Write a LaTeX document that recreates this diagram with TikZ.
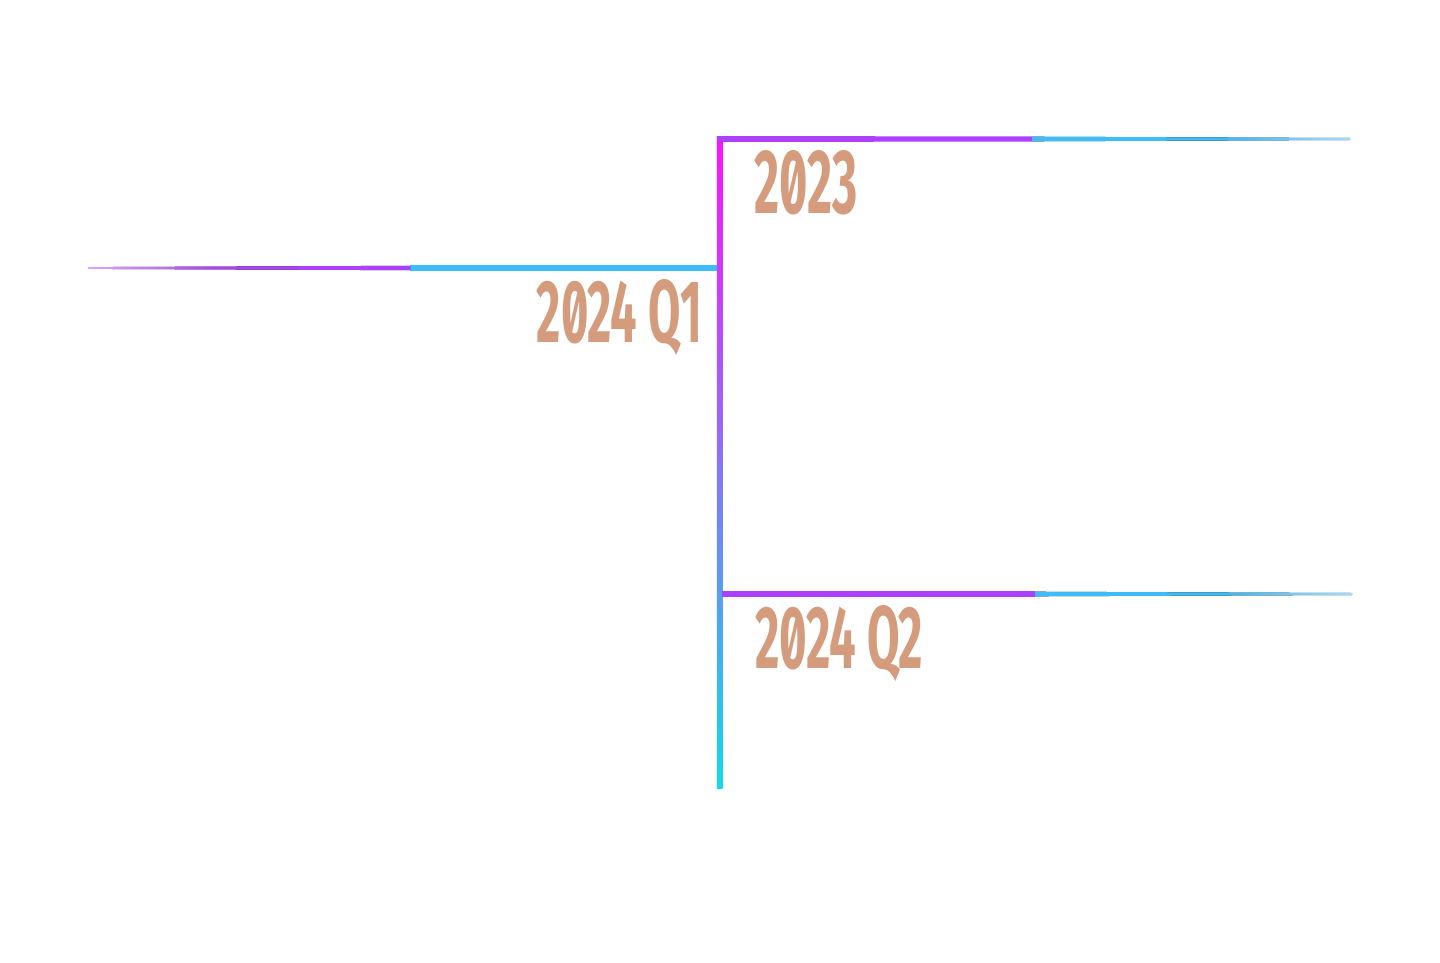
\documentclass[tikz,border=0pt]{standalone}
\usepackage{fontspec}
\setmainfont{Fira Sans}[RawFeature=+zero]
\usepackage{graphicx}
\definecolor{spinetop}{HTML}{FF10FF}
\definecolor{spinemid}{HTML}{9A66F6}
\definecolor{spinebot}{HTML}{12DAE8}
\definecolor{branchpurple}{HTML}{AE40FC}
\definecolor{branchlilac}{HTML}{D8A8F8}
\definecolor{branchblue}{HTML}{3CBCF8}
\definecolor{branchpale}{HTML}{A8DAF8}
\definecolor{labeltan}{HTML}{D49B7C}
\pgfdeclarehorizontalshading{bluetail}{100bp}{color(0bp)=(branchblue); color(25bp)=(branchblue);
  color(57bp)=(branchblue); color(75bp)=(branchpale); color(100bp)=(branchpale)}
\pgfdeclarehorizontalshading{purpletail}{100bp}{color(0bp)=(branchlilac); color(25bp)=(branchlilac);
  color(45bp)=(branchpurple); color(75bp)=(branchpurple); color(100bp)=(branchpurple)}

\begin{document}
\begin{tikzpicture}[x=1pt,y=-1pt,
  yearlabel/.style={text=labeltan,inner sep=0pt,font=\bfseries}]
\useasboundingbox (0,0) rectangle (1440,963);
\fill[white] (0,0) rectangle (1440,963);
% spine and branch points
\coordinate (top) at (719.6,139);
\coordinate (bot) at (719.6,788);
\coordinate (j1) at (719.6,268);
\coordinate (j2) at (719.6,594);
\coordinate (m0) at (1032,139);
\coordinate (m1) at (410,268);
\coordinate (m2) at (1035,594);
\coordinate (e0) at (1350,139);
\coordinate (e1) at (88,268);
\coordinate (e2) at (1352,594);
% spine
\fill[top color=spinetop, middle color=spinemid, bottom color=spinebot]
  ([shift={(-2.8pt,2.8pt)}]top) rectangle ([xshift=2.8pt]bot);
% 2023 branch
\fill[branchpurple] ([shift={(-2.8pt,2.8pt)}]top) -- ([yshift=2.7pt]m0)
  -- ([yshift=-2.7pt]m0) -- ([shift={(-2.8pt,-2.8pt)}]top) -- cycle;
\fill[shading=bluetail]
  ([yshift=2.3pt]m0) -- ([yshift=1pt]e0) -- ([yshift=-1pt]e0) -- ([yshift=-2.3pt]m0) -- cycle;
% 2024 Q1 branch
\fill[branchblue] ([yshift=2.7pt]m1) -- ([shift={(-2.8pt,2.7pt)}]j1)
  -- ([shift={(-2.8pt,-2.7pt)}]j1) -- ([yshift=-2.7pt]m1) -- cycle;
\fill[shading=purpletail]
  ([yshift=0.9pt]e1) -- ([yshift=2.2pt]m1) -- ([yshift=-2.2pt]m1) -- ([yshift=-0.9pt]e1) -- cycle;
% 2024 Q2 branch
\fill[branchpurple] ([shift={(2.8pt,2.7pt)}]j2) -- ([yshift=2.7pt]m2)
  -- ([yshift=-2.7pt]m2) -- ([shift={(2.8pt,-2.7pt)}]j2) -- cycle;
\fill[shading=bluetail]
  ([yshift=2.3pt]m2) -- ([yshift=1pt]e2) -- ([yshift=-1pt]e2) -- ([yshift=-2.3pt]m2) -- cycle;
% labels
\node[yearlabel,anchor=base west] (y2023) at (754,213) {\resizebox{103pt}{63pt}{2023}};
\node[yearlabel,anchor=base east] (y2024a) at (702,342) {\resizebox{165pt}{63pt}{2024 Q1}};
\node[yearlabel,anchor=base west] (y2024b) at (755,668) {\resizebox{168pt}{63pt}{2024 Q2}};
\end{tikzpicture}
\end{document}
